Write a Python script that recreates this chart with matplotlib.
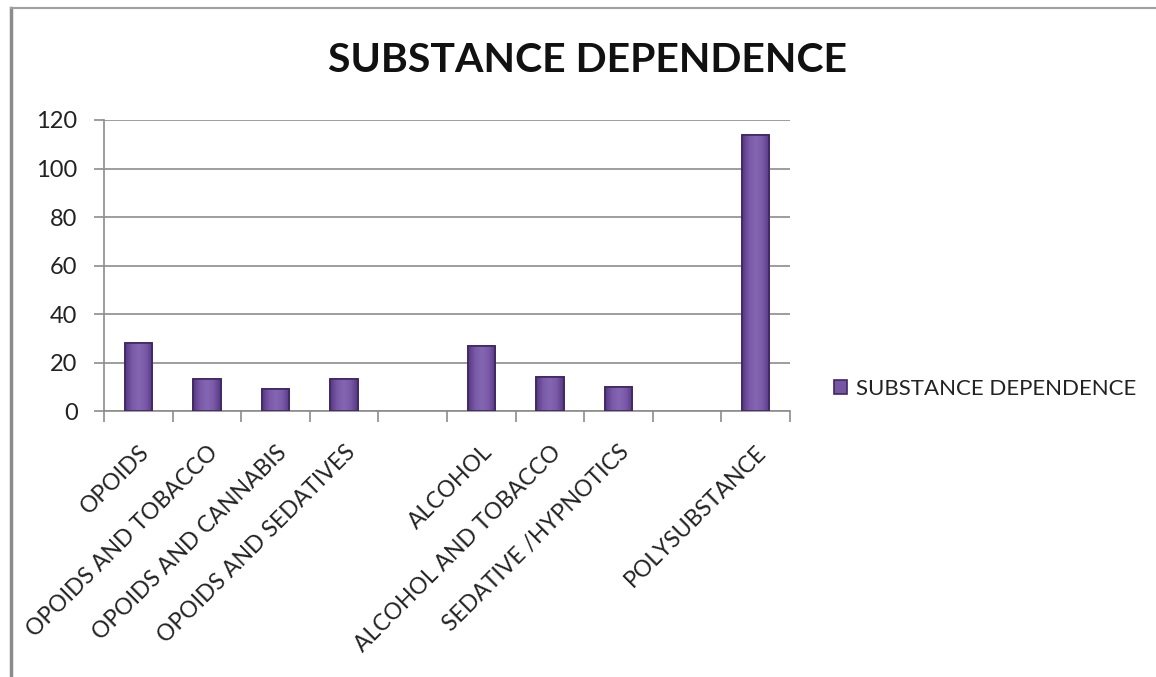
import matplotlib
matplotlib.use("Agg")
import matplotlib.pyplot as plt
from matplotlib.lines import Line2D
from matplotlib.colors import LinearSegmentedColormap
import numpy as np

categories = ["OPOIDS", "OPOIDS AND TOBACCO", "OPOIDS AND CANNABIS", "OPOIDS AND SEDATIVES",
              "", "ALCOHOL", "ALCOHOL AND TOBACCO", "SEDATIVE /HYPNOTICS", "", "POLYSUBSTANCE"]
values = [28, 13, 9, 13, 0, 27, 14, 10, 0, 114]
yticks = [0, 20, 40, 60, 80, 100, 120]
series_name = "SUBSTANCE DEPENDENCE"
title = "SUBSTANCE DEPENDENCE"

plt.rcParams['font.family'] = ['Lato', 'DejaVu Sans']

fig = plt.figure(figsize=(11.56, 6.77), dpi=100)
ax = fig.add_axes([104/1156, 1-411/677, 686/1156, 291/677])

x = np.arange(len(categories))
bars = ax.bar(x, values, width=0.4, color="#7656A3", edgecolor="#3F2763", linewidth=1.2,
              label=series_name, zorder=3)

cmap = LinearSegmentedColormap.from_list("bev", ["#553881", "#7a5aa8", "#8466b2", "#7a5aa8", "#553881"])
grad = np.linspace(0, 1, 64).reshape(1, -1)
for b, v in zip(bars, values):
    if v == 0:
        b.set_visible(False)
        continue
    im = ax.imshow(grad, cmap=cmap, aspect="auto", zorder=3.5,
                   extent=(b.get_x(), b.get_x() + b.get_width(), 0, v))
    im.set_clip_path(b)
    # edge on top
    ax.bar(b.get_x() + b.get_width() / 2, v, width=b.get_width(), fill=False,
           edgecolor="#3F2763", linewidth=1.2, zorder=4)

ax.set_xlim(-0.5, len(categories) - 0.5)
ax.set_ylim(0, 120)
ax.set_yticks(yticks)
ax.set_yticklabels([str(v) for v in yticks], fontsize=17, color="#222222")
ax.yaxis.grid(True, color="#8c8c8c", linewidth=1.2, zorder=0)
ax.set_axisbelow(True)

ax.set_xticks(np.arange(len(categories) + 1) - 0.5)
ax.set_xticklabels([])
ax.set_xticks(x, minor=True)
ax.set_xticklabels(categories, minor=True, rotation=45, ha="right", va="top",
                   rotation_mode="anchor", fontsize=16.5, color="#222222")
ax.tick_params(axis="x", which="minor", length=0, pad=22)
ax.tick_params(axis="x", which="major", length=8, width=1.2, color="#8c8c8c", direction="out")
ax.tick_params(axis="y", length=7, width=1.2, color="#8c8c8c", direction="out", pad=12)

for s in ["top", "right"]:
    ax.spines[s].set_visible(False)
for s in ["left", "bottom"]:
    ax.spines[s].set_color("#8c8c8c")
    ax.spines[s].set_linewidth(1.2)

fig.text(588/1156, 1-60/677, title, ha="center", va="center", fontsize=29.5,
         fontweight="bold", color="#111111")

leg = ax.legend(loc="center left", bbox_to_anchor=((834-104)/686, (411-389)/291), frameon=False,
                fontsize=16, handlelength=0.6, handleheight=0.6, handletextpad=0.4,
                borderaxespad=0, borderpad=0, labelcolor="#222222")

fig.add_artist(Line2D([11/1156, 11/1156], [0, 1-8/677], color="#8c8c8c", linewidth=2.5))
fig.add_artist(Line2D([11/1156, 1], [1-8/677, 1-8/677], color="#a0a0a0", linewidth=1.5))

fig.savefig("out.png", dpi=100)
